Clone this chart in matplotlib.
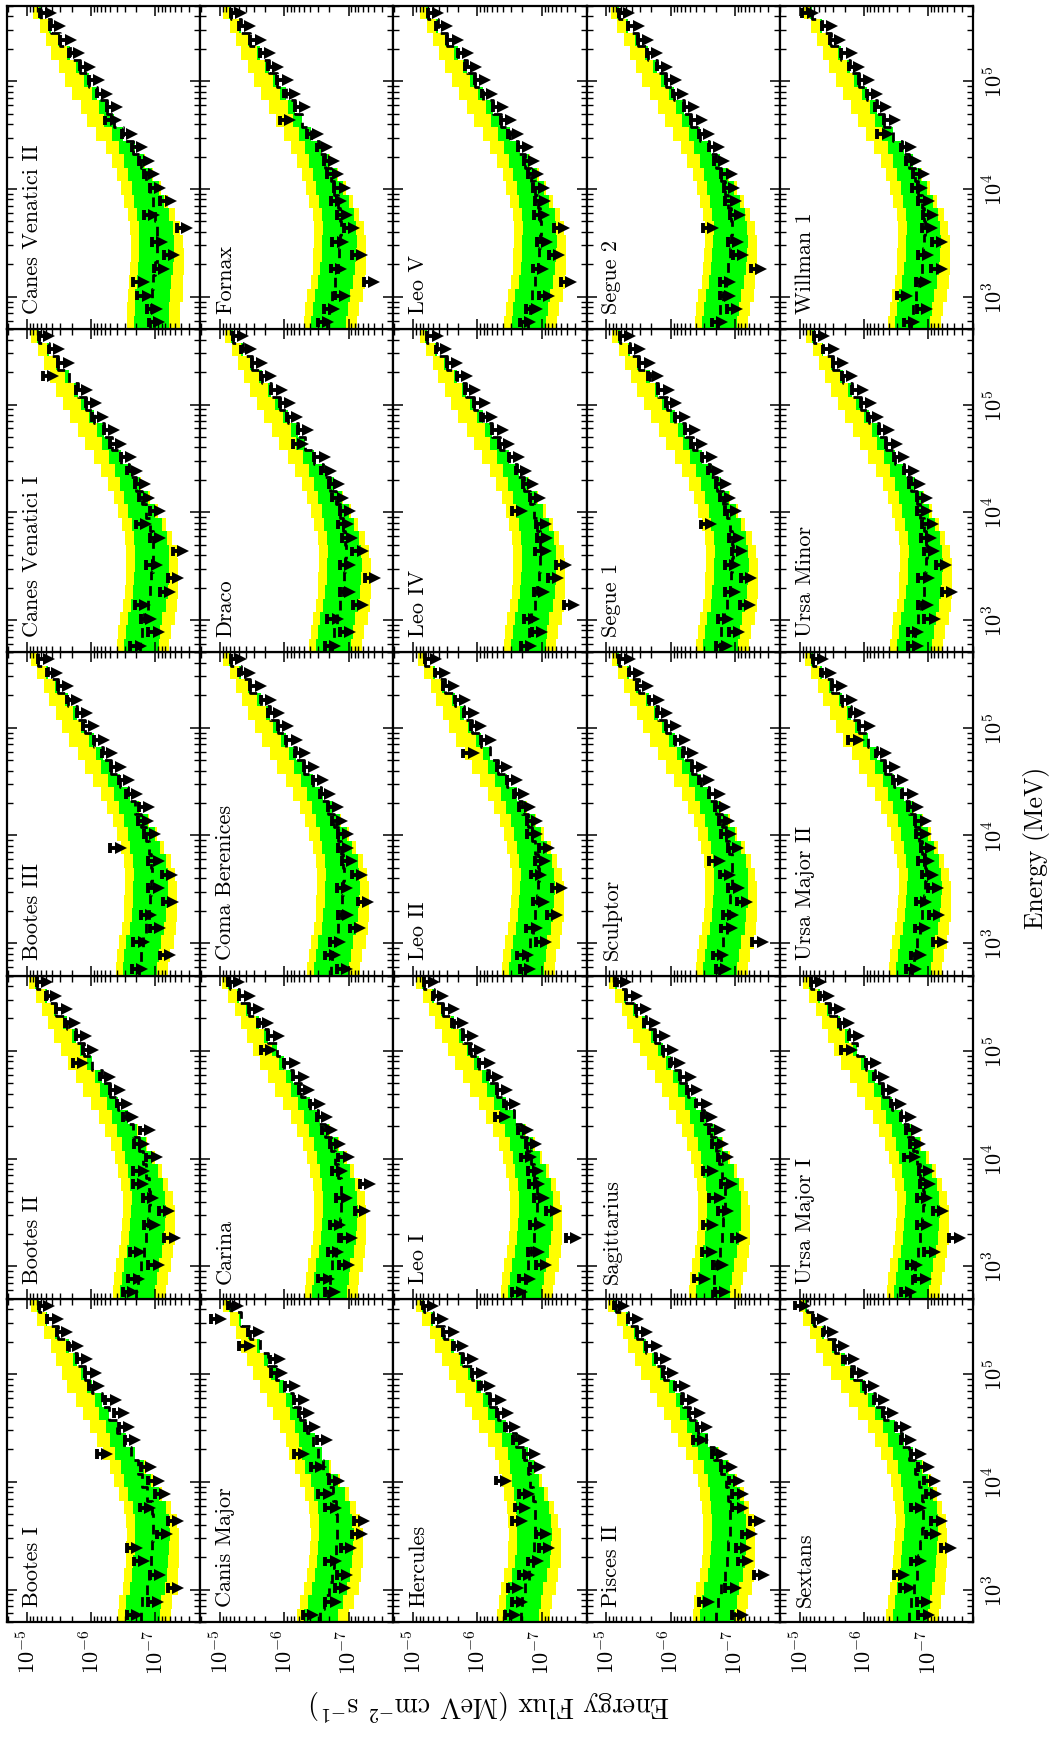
import matplotlib.pyplot as plt
import numpy as np

plt.rcParams['mathtext.fontset'] = 'cm'
plt.rcParams['font.family'] = ['cmr10', 'DejaVu Serif']
plt.rcParams['axes.formatter.use_mathtext'] = True

# energy bin edges (MeV), 8 bins per decade
ENERGY_EDGES = [500, 667, 889, 1186, 1581, 2108, 2812, 3749, 5000, 6668, 8891,
                11857, 15811, 21085, 28117, 37495, 50000, 66676, 88914, 118569,
                158114, 210848, 281171, 374947, 500000]

# expected-limit bands, decades relative to the median expectation
HI95_OFF = [0.36, 0.37, 0.38, 0.38, 0.39, 0.40, 0.41, 0.42, 0.43, 0.44, 0.44, 0.44,
            0.44, 0.43, 0.42, 0.41, 0.40, 0.38, 0.36, 0.33, 0.29, 0.22, 0.17, 0.12]
HI68_OFF = [0.25, 0.25, 0.26, 0.26, 0.27, 0.27, 0.28, 0.28, 0.29, 0.29, 0.28, 0.27,
            0.25, 0.22, 0.18, 0.15, 0.11, 0.08, 0.07, 0.06, 0.05, 0.04, 0.03, 0.03]
LO68_OFF = [-0.29, -0.29, -0.28, -0.28, -0.27, -0.27, -0.26, -0.24, -0.22, -0.18, -0.14, -0.10,
            -0.06, -0.03, 0, 0, 0, 0, 0, 0, 0, 0, 0, 0]
LO95_OFF = [-0.46, -0.46, -0.48, -0.46, -0.44, -0.42, -0.40, -0.36, -0.30, -0.24, -0.18, -0.12,
            -0.07, -0.03, 0, 0, 0, 0, 0, 0, 0, 0, 0, 0]

# log10 energy flux per bin: median expected limit (_MED), observed upper limit (_UL)
BOOTES_I_MED = [-6.78, -6.80, -6.87, -6.90, -6.93, -6.95, -6.97, -6.97, -6.95, -6.87, -6.79, -6.73,
                -6.62, -6.52, -6.41, -6.28, -6.17, -6.01, -5.91, -5.78, -5.66, -5.48, -5.32, -5.19]
BOOTES_I_UL = [-6.56, -6.88, -7.19, -6.91, -6.67, -6.56, -7.02, -7.19, -6.76, -6.99, -6.89, -6.78,
               -6.09, -6.53, -6.43, -6.35, -6.22, -5.96, -5.91, -5.78, -5.64, -5.47, -5.32, -5.19]

BOOTES_II_MED = [-6.70, -6.73, -6.77, -6.82, -6.86, -6.88, -6.90, -6.91, -6.90, -6.86, -6.81, -6.75,
                 -6.66, -6.55, -6.42, -6.29, -6.17, -6.02, -5.89, -5.76, -5.62, -5.46, -5.31, -5.16]
BOOTES_II_UL = [-6.50, -6.58, -6.89, -6.60, -7.14, -6.83, -7.05, -6.81, -6.65, -6.66, -6.86, -6.67,
                -6.76, -6.50, -6.40, -6.29, -6.14, -5.72, -5.87, -5.76, -5.59, -5.46, -5.29, -5.16]

BOOTES_III_MED = [-6.74, -6.77, -6.81, -6.86, -6.90, -6.92, -6.94, -6.95, -6.94, -6.90, -6.85, -6.78,
                  -6.69, -6.58, -6.45, -6.31, -6.19, -6.04, -5.91, -5.78, -5.64, -5.48, -5.33, -5.18]
BOOTES_III_UL = [-6.64, -7.07, -6.66, -6.91, -6.78, -7.12, -6.89, -7.10, -6.89, -6.30, -6.83, -6.73,
                 -6.74, -6.55, -6.43, -6.31, -6.17, -6.04, -5.88, -5.78, -5.62, -5.48, -5.31, -5.18]

CVN_I_MED = [-6.76, -6.79, -6.83, -6.88, -6.92, -6.94, -6.96, -6.97, -6.96, -6.92, -6.86, -6.79,
             -6.70, -6.59, -6.46, -6.32, -6.20, -6.05, -5.92, -5.79, -5.65, -5.49, -5.34, -5.19]
CVN_I_UL = [-6.61, -6.89, -6.78, -6.68, -7.07, -7.19, -6.86, -7.27, -6.91, -6.70, -6.91, -6.74,
            -6.68, -6.56, -6.46, -6.30, -6.20, -6.02, -5.92, -5.77, -5.25, -5.49, -5.34, -5.19]

CVN_II_MED = [-6.92, -6.93, -6.95, -6.97, -7.00, -7.02, -7.03, -7.03, -7.00, -6.96, -6.91, -6.85,
              -6.77, -6.66, -6.50, -6.35, -6.24, -6.09, -5.96, -5.83, -5.67, -5.52, -5.37, -5.22]
CVN_II_UL = [-6.90, -6.87, -6.72, -6.66, -6.98, -7.13, -6.95, -7.34, -6.82, -7.08, -6.92, -6.82,
             -6.74, -6.64, -6.48, -6.22, -6.25, -6.09, -5.96, -5.83, -5.65, -5.52, -5.36, -5.21]

CANIS_MAJOR_MED = [-6.55, -6.62, -6.69, -6.74, -6.78, -6.80, -6.82, -6.82, -6.81, -6.76, -6.69, -6.60,
                   -6.52, -6.45, -6.35, -6.24, -6.13, -6.00, -5.87, -5.75, -5.62, -5.47, -5.32, -5.17]
CANIS_MAJOR_UL = [-6.29, -6.64, -6.79, -6.82, -6.64, -6.88, -7.05, -7.08, -6.64, -6.53, -6.69, -6.41,
                  -6.15, -6.51, -6.32, -6.23, -6.15, -6.01, -5.80, -5.77, -5.30, -5.44, -4.86, -5.12]

CARINA_MED = [-6.68, -6.71, -6.75, -6.80, -6.84, -6.86, -6.88, -6.89, -6.88, -6.84, -6.79, -6.73,
              -6.64, -6.53, -6.40, -6.26, -6.14, -6.00, -5.88, -5.75, -5.61, -5.45, -5.30, -5.15]
CARINA_UL = [-6.63, -6.53, -6.85, -6.68, -6.89, -6.71, -7.10, -6.81, -7.18, -6.74, -6.84, -6.71,
             -6.59, -6.51, -6.40, -6.23, -6.14, -6.00, -5.63, -5.75, -5.59, -5.45, -5.30, -5.13]

COMA_MED = [-6.72, -6.75, -6.79, -6.84, -6.88, -6.90, -6.92, -6.93, -6.92, -6.88, -6.83, -6.77,
            -6.68, -6.57, -6.44, -6.30, -6.18, -6.03, -5.90, -5.77, -5.63, -5.47, -5.32, -5.17]
COMA_UL = [-6.82, -6.63, -6.71, -7.02, -6.83, -7.15, -6.82, -7.05, -6.90, -6.83, -6.83, -6.74,
           -6.68, -6.55, -6.44, -6.30, -6.16, -6.03, -5.90, -5.75, -5.63, -5.47, -5.30, -5.17]

DRACO_MED = [-6.75, -6.78, -6.82, -6.87, -6.91, -6.93, -6.95, -6.96, -6.95, -6.91, -6.86, -6.80,
             -6.71, -6.60, -6.47, -6.33, -6.21, -6.06, -5.93, -5.80, -5.66, -5.50, -5.35, -5.20]
DRACO_UL = [-6.63, -6.86, -6.67, -7.07, -6.86, -7.25, -6.87, -7.06, -6.90, -6.83, -6.86, -6.75,
            -6.69, -6.57, -6.47, -6.13, -6.21, -6.04, -5.93, -5.80, -5.64, -5.50, -5.32, -5.20]

FORNAX_MED = [-6.67, -6.70, -6.74, -6.79, -6.83, -6.85, -6.87, -6.88, -6.87, -6.83, -6.78, -6.72,
              -6.64, -6.54, -6.41, -6.28, -6.16, -6.02, -5.89, -5.76, -5.62, -5.47, -5.32, -5.17]
FORNAX_UL = [-6.52, -6.62, -6.79, -7.24, -6.73, -7.05, -6.75, -6.93, -6.82, -6.73, -6.78, -6.67,
             -6.62, -6.51, -6.36, -5.93, -6.16, -6.00, -5.89, -5.74, -5.62, -5.47, -5.30, -5.17]

HERCULES_MED = [-6.67, -6.70, -6.74, -6.80, -6.86, -6.88, -6.90, -6.90, -6.89, -6.86, -6.82, -6.78,
                -6.72, -6.60, -6.45, -6.32, -6.20, -6.05, -5.92, -5.78, -5.63, -5.48, -5.31, -5.16]
HERCULES_UL = [-6.43, -6.53, -6.47, -6.64, -6.78, -6.96, -6.91, -6.53, -6.58, -6.64, -6.29, -6.81,
               -6.73, -6.56, -6.43, -6.31, -6.20, -6.03, -5.91, -5.77, -5.62, -5.47, -5.30, -5.15]

LEO_I_MED = [-6.72, -6.75, -6.79, -6.84, -6.88, -6.90, -6.92, -6.93, -6.92, -6.88, -6.83, -6.77,
             -6.68, -6.57, -6.44, -6.30, -6.18, -6.03, -5.90, -5.77, -5.63, -5.47, -5.32, -5.17]
LEO_I_UL = [-6.54, -6.65, -6.91, -6.79, -7.38, -6.82, -7.07, -6.88, -6.80, -6.78, -6.68, -6.75,
            -6.63, -6.27, -6.42, -6.30, -6.16, -6.03, -5.88, -5.77, -5.61, -5.47, -5.30, -5.17]

LEO_II_MED = [-6.74, -6.77, -6.81, -6.86, -6.90, -6.92, -6.94, -6.95, -6.94, -6.90, -6.85, -6.79,
              -6.70, -6.59, -6.46, -6.32, -6.20, -6.05, -5.92, -5.79, -5.65, -5.49, -5.34, -5.19]
LEO_II_UL = [-6.66, -6.62, -6.91, -6.76, -7.08, -6.87, -7.16, -6.83, -6.89, -6.95, -6.77, -6.77,
             -6.65, -6.57, -6.46, -6.30, -5.78, -6.05, -5.90, -5.79, -5.65, -5.47, -5.34, -5.19]

LEO_IV_MED = [-6.77, -6.80, -6.84, -6.89, -6.93, -6.95, -6.97, -6.98, -6.97, -6.93, -6.88, -6.82,
              -6.73, -6.62, -6.49, -6.35, -6.23, -6.08, -5.95, -5.82, -5.68, -5.52, -5.37, -5.22]
LEO_IV_UL = [-6.67, -6.85, -6.72, -7.34, -6.88, -7.10, -7.22, -6.90, -6.92, -6.91, -6.53, -6.82,
             -6.71, -6.60, -6.49, -6.33, -6.23, -6.06, -5.95, -5.80, -5.68, -5.52, -5.35, -5.22]

LEO_V_MED = [-6.78, -6.81, -6.85, -6.90, -6.94, -6.96, -6.98, -6.99, -6.98, -6.94, -6.89, -6.83,
             -6.74, -6.63, -6.50, -6.36, -6.24, -6.09, -5.96, -5.83, -5.69, -5.53, -5.38, -5.23]
LEO_V_UL = [-6.66, -6.76, -6.95, -7.30, -6.86, -7.11, -6.93, -7.19, -6.88, -6.89, -6.87, -6.78,
            -6.72, -6.63, -6.47, -6.36, -6.24, -6.07, -5.96, -5.81, -5.69, -5.53, -5.36, -5.23]

PISCES_II_MED = [-6.71, -6.74, -6.78, -6.84, -6.88, -6.90, -6.92, -6.93, -6.92, -6.90, -6.86, -6.79,
                 -6.68, -6.55, -6.43, -6.30, -6.19, -6.06, -5.90, -5.77, -5.62, -5.47, -5.33, -5.15]
PISCES_II_UL = [-6.96, -6.44, -6.85, -7.29, -7.05, -7.02, -7.11, -7.23, -6.96, -6.96, -6.91, -6.79,
                -6.64, -6.35, -6.41, -6.29, -6.18, -6.06, -5.88, -5.77, -5.62, -5.47, -5.33, -5.12]

SAGITTARIUS_MED = [-6.64, -6.67, -6.71, -6.76, -6.80, -6.82, -6.84, -6.85, -6.84, -6.80, -6.75, -6.70,
                   -6.62, -6.52, -6.40, -6.27, -6.15, -6.01, -5.88, -5.75, -5.61, -5.46, -5.31, -5.16]
SAGITTARIUS_UL = [-6.69, -6.37, -6.66, -6.48, -6.95, -6.50, -6.74, -6.60, -6.79, -6.50, -6.73, -6.65,
                  -6.60, -6.49, -6.40, -6.25, -6.15, -5.99, -5.88, -5.75, -5.59, -5.46, -5.31, -5.14]

SCULPTOR_MED = [-6.75, -6.78, -6.82, -6.87, -6.91, -6.93, -6.95, -6.96, -6.95, -6.91, -6.86, -6.80,
                -6.71, -6.60, -6.47, -6.33, -6.21, -6.06, -5.93, -5.80, -5.66, -5.50, -5.35, -5.20]
SCULPTOR_UL = [-6.70, -6.66, -7.27, -6.79, -6.81, -7.03, -6.90, -6.76, -6.60, -6.89, -6.78, -6.75,
               -6.69, -6.60, -6.44, -6.33, -6.19, -6.06, -5.93, -5.78, -5.66, -5.48, -5.35, -5.20]

SEGUE_1_MED = [-6.76, -6.79, -6.83, -6.88, -6.92, -6.94, -6.96, -6.97, -6.96, -6.92, -6.87, -6.81,
               -6.72, -6.61, -6.48, -6.34, -6.22, -6.07, -5.94, -5.81, -5.67, -5.51, -5.36, -5.21]
SEGUE_1_UL = [-6.71, -6.91, -6.73, -7.08, -6.84, -7.09, -6.84, -6.95, -6.91, -6.47, -6.85, -6.76,
              -6.70, -6.58, -6.48, -6.32, -6.22, -6.07, -5.92, -5.81, -5.65, -5.51, -5.36, -5.21]

SEGUE_2_MED = [-6.74, -6.77, -6.81, -6.86, -6.90, -6.92, -6.94, -6.95, -6.94, -6.90, -6.85, -6.79,
               -6.70, -6.59, -6.46, -6.32, -6.20, -6.05, -5.92, -5.79, -5.65, -5.49, -5.34, -5.19]
SEGUE_2_UL = [-6.64, -6.87, -6.76, -6.76, -7.25, -6.97, -6.89, -6.50, -6.92, -6.85, -6.83, -6.79,
              -6.67, -6.59, -6.44, -6.32, -6.20, -6.03, -5.92, -5.79, -5.63, -5.49, -5.34, -5.19]

SEXTANS_MED = [-6.71, -6.74, -6.78, -6.82, -6.85, -6.87, -6.90, -6.92, -6.92, -6.90, -6.86, -6.80,
               -6.70, -6.60, -6.48, -6.32, -6.17, -6.02, -5.85, -5.70, -5.55, -5.38, -5.22, -5.12]
SEXTANS_UL = [-6.85, -6.82, -6.56, -6.47, -6.73, -7.20, -6.96, -7.05, -6.73, -6.96, -6.94, -6.85,
              -6.73, -6.58, -6.50, -6.29, -6.15, -6.00, -5.82, -5.68, -5.53, -5.36, -5.21, -4.92]

UMA_I_MED = [-6.72, -6.75, -6.79, -6.84, -6.88, -6.90, -6.92, -6.93, -6.92, -6.88, -6.83, -6.77,
             -6.68, -6.57, -6.44, -6.30, -6.18, -6.03, -5.90, -5.77, -5.63, -5.47, -5.32, -5.17]
UMA_I_UL = [-6.57, -6.80, -6.67, -6.94, -7.33, -6.82, -7.07, -6.83, -6.87, -6.86, -6.63, -6.72,
            -6.66, -6.57, -6.42, -6.30, -6.16, -6.03, -5.65, -5.77, -5.61, -5.47, -5.30, -5.17]

UMA_II_MED = [-6.75, -6.78, -6.82, -6.87, -6.91, -6.93, -6.95, -6.96, -6.95, -6.91, -6.86, -6.80,
              -6.71, -6.60, -6.47, -6.33, -6.21, -6.06, -5.93, -5.80, -5.66, -5.50, -5.35, -5.20]
UMA_II_UL = [-6.65, -6.73, -7.07, -6.79, -7.01, -6.81, -7.00, -6.91, -6.85, -6.89, -6.81, -6.80,
             -6.68, -6.60, -6.45, -6.33, -6.19, -5.76, -5.93, -5.78, -5.66, -5.50, -5.33, -5.20]

UMI_MED = [-6.77, -6.80, -6.84, -6.89, -6.93, -6.95, -6.97, -6.98, -6.97, -6.93, -6.88, -6.82,
           -6.73, -6.62, -6.49, -6.35, -6.23, -6.08, -5.95, -5.82, -5.68, -5.52, -5.37, -5.22]
UMI_UL = [-6.69, -6.68, -6.94, -6.84, -7.21, -6.85, -7.12, -6.93, -6.89, -6.91, -6.83, -6.82,
          -6.71, -6.62, -6.47, -6.35, -6.23, -6.06, -5.95, -5.82, -5.66, -5.52, -5.37, -5.22]

WILLMAN_1_MED = [-6.74, -6.77, -6.81, -6.86, -6.90, -6.92, -6.94, -6.95, -6.94, -6.90, -6.85, -6.79,
                 -6.70, -6.59, -6.46, -6.32, -6.20, -6.05, -5.92, -5.79, -5.65, -5.49, -5.34, -5.19]
WILLMAN_1_UL = [-6.62, -6.82, -6.51, -6.81, -7.05, -6.84, -7.06, -6.90, -6.92, -6.85, -6.75, -6.77,
                -6.65, -6.57, -6.21, -6.32, -6.18, -6.05, -5.92, -5.77, -5.65, -5.47, -5.34, -5.04]

DWARFS = ["Bootes I", "Bootes II", "Bootes III", "Canes Venatici I", "Canes Venatici II",
          "Canis Major", "Carina", "Coma Berenices", "Draco", "Fornax",
          "Hercules", "Leo I", "Leo II", "Leo IV", "Leo V",
          "Pisces II", "Sagittarius", "Sculptor", "Segue 1", "Segue 2",
          "Sextans", "Ursa Major I", "Ursa Major II", "Ursa Minor", "Willman 1"]
MEDIANS = [BOOTES_I_MED, BOOTES_II_MED, BOOTES_III_MED, CVN_I_MED, CVN_II_MED,
           CANIS_MAJOR_MED, CARINA_MED, COMA_MED, DRACO_MED, FORNAX_MED,
           HERCULES_MED, LEO_I_MED, LEO_II_MED, LEO_IV_MED, LEO_V_MED,
           PISCES_II_MED, SAGITTARIUS_MED, SCULPTOR_MED, SEGUE_1_MED, SEGUE_2_MED,
           SEXTANS_MED, UMA_I_MED, UMA_II_MED, UMI_MED, WILLMAN_1_MED]
LIMITS = [BOOTES_I_UL, BOOTES_II_UL, BOOTES_III_UL, CVN_I_UL, CVN_II_UL,
          CANIS_MAJOR_UL, CARINA_UL, COMA_UL, DRACO_UL, FORNAX_UL,
          HERCULES_UL, LEO_I_UL, LEO_II_UL, LEO_IV_UL, LEO_V_UL,
          PISCES_II_UL, SAGITTARIUS_UL, SCULPTOR_UL, SEGUE_1_UL, SEGUE_2_UL,
          SEXTANS_UL, UMA_I_UL, UMA_II_UL, UMI_UL, WILLMAN_1_UL]


def draw_panel(ax, name, med, ul):
    e_lo = np.array(ENERGY_EDGES[:-1], dtype=float)
    e_hi = np.array(ENERGY_EDGES[1:], dtype=float)
    e_c = np.sqrt(e_lo * e_hi)
    med = np.array(med)

    # 95% (yellow) then 68% (green) containment of expected limits
    for top, bot, col in [(HI95_OFF, LO95_OFF, "#ffff00"), (HI68_OFF, LO68_OFF, "#00ff00")]:
        f_top = 10 ** (med + np.array(top))
        f_bot = 10 ** (med + np.array(bot))
        ax.barh(e_lo, f_top - f_bot, height=e_hi - e_lo, left=f_bot, align="edge",
                color=col, linewidth=0)

    xs = np.repeat(10 ** med, 2)
    ys = np.column_stack([e_lo, e_hi]).ravel()
    ax.plot(xs, ys, color="k", lw=2.0, dashes=(3.5, 2.5))

    # upper limits: bar across the bin plus arrow towards lower flux
    ul = 10 ** np.array(ul)
    ax.vlines(ul, e_c * 10 ** -0.045, e_c * 10 ** 0.045, color="k", lw=2.8)
    ax.hlines(e_c, ul, ul * 10 ** -0.10, color="k", lw=2.8)
    ax.plot(ul * 10 ** -0.16, e_c, ">", color="k", ms=9, mew=0)

    ax.text(0.13, 0.05, name, transform=ax.transAxes, rotation=90,
            ha="center", va="bottom", fontsize=16)


fig = plt.figure(figsize=(10.58, 17.40), dpi=100)
gs = fig.add_gridspec(5, 5, left=7 / 1058, right=973 / 1058,
                      bottom=1 - 1623 / 1740, top=1 - 7 / 1740, wspace=0, hspace=0)

for k, name in enumerate(DWARFS):
    col = k // 5
    row = 4 - k % 5
    ax = fig.add_subplot(gs[row, col])
    ax.set_xscale("log")
    ax.set_yscale("log")
    draw_panel(ax, name, MEDIANS[k], LIMITS[k])
    ax.set_xlim(2.04e-5, 2.0e-8)
    ax.set_ylim(500, 5e5)
    for s in ax.spines.values():
        s.set_linewidth(1.6)
    ax.tick_params(which="both", direction="in", top=True, right=True,
                   labelbottom=False, labelleft=False)
    ax.tick_params(which="major", length=7.5, width=1.1)
    ax.tick_params(which="minor", length=4, width=1.0)
    ax.set_xticks([1e-5, 1e-6, 1e-7], ["$10^{-5}$", "$10^{-6}$", "$10^{-7}$"],
                  rotation=90, fontsize=16)
    ax.set_yticks([1e3, 1e4, 1e5], ["$10^{3}$", "$10^{4}$", "$10^{5}$"],
                  rotation=90, va="center", fontsize=16)
    if row == 4:
        ax.tick_params(axis="x", labelbottom=True, pad=5)
    if col == 4:
        ax.tick_params(axis="y", labelright=True, pad=7)

fig.text(1036 / 1058, 1 - 848 / 1740, "Energy (MeV)", rotation=90,
         ha="center", va="center", fontsize=18.5)
fig.text(490 / 1058, 1 - 1705 / 1740, "Energy Flux (MeV cm$^{-2}$ s$^{-1}$)",
         rotation=180, ha="center", va="center", fontsize=20)

fig.savefig("out.png", dpi=100)
